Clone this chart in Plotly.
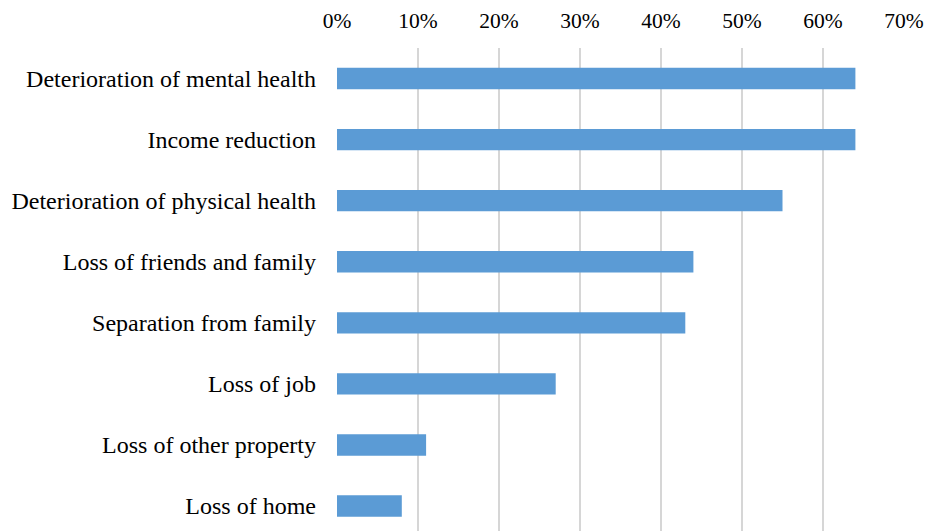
import plotly.graph_objects as go

# Survey results: share of respondents reporting each consequence
categories = [
    "Deterioration of mental health",
    "Income reduction",
    "Deterioration of physical health",
    "Loss of friends and family",
    "Separation from family",
    "Loss of job",
    "Loss of other property",
    "Loss of home",
]
shares = [0.64, 0.64, 0.55, 0.44, 0.43, 0.27, 0.11, 0.08]
tick_values = [0, 0.1, 0.2, 0.3, 0.4, 0.5, 0.6, 0.7]
tick_labels = ["0%", "10%", "20%", "30%", "40%", "50%", "60%", "70%"]

fig = go.Figure(
    go.Bar(
        x=shares,
        y=categories,
        orientation="h",
        marker=dict(color="#5B9BD5", line=dict(width=0)),
        hoverinfo="x+y",
    )
)

fig.update_layout(
    width=925,
    height=531,
    margin=dict(l=337, r=21, t=48, b=0, pad=0),
    paper_bgcolor="white",
    plot_bgcolor="white",
    bargap=0.65,
    showlegend=False,
    font=dict(family="Liberation Serif, Times New Roman, serif", color="#000000"),
    xaxis=dict(
        side="top",
        range=[0, 0.7],
        tickvals=tick_values,
        ticktext=tick_labels,
        showgrid=True,
        gridcolor="#d6d6d6",
        gridwidth=1.5,
        zeroline=False,
        showline=False,
        ticks="",
        ticklabelstandoff=15,
        tickfont=dict(size=21.5),
    ),
    yaxis=dict(
        type="category",
        categoryorder="array",
        categoryarray=categories,
        range=[7.409, -0.5],
        showgrid=False,
        zeroline=False,
        showline=False,
        ticks="",
        ticklabelstandoff=20,
        tickfont=dict(size=24),
    ),
)

fig.write_html("out.html")
